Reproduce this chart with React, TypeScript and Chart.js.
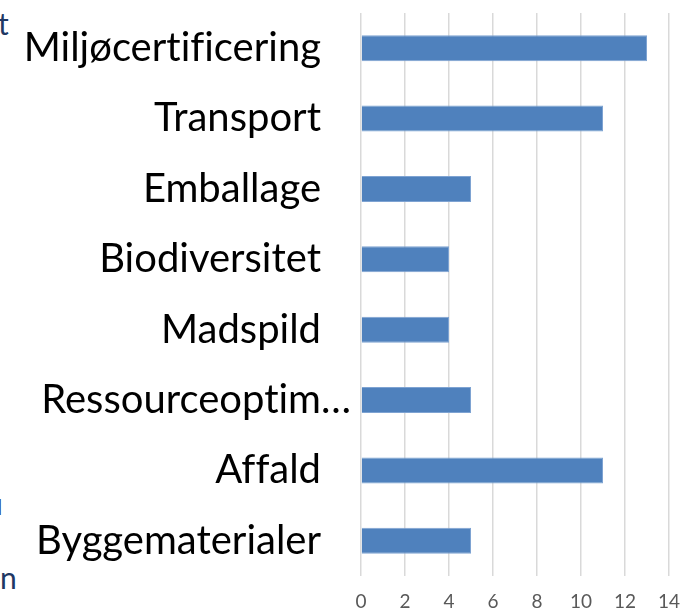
import React, { useEffect, useRef } from "react";
import { Chart, registerables } from "chart.js";
Chart.register(...registerables);

const categories = [
  "Miljøcertificering",
  "Transport",
  "Emballage",
  "Biodiversitet",
  "Madspild",
  "Ressourceoptim…",
  "Affald",
  "Byggematerialer",
];
const values = [13, 11, 5, 4, 4, 5, 11, 5];
const xMin = 0;
const xMax = 14;
const xStep = 2;

const labelTweaks = {
  id: "labelTweaks",
  beforeDraw(chart: any) {
    try {
      (chart.ctx as any).textRendering = "optimizeSpeed";
    } catch (e) {}
    const y = chart.scales.y;
    if (!y || !y.getLabelItems) return;
    const items = y.getLabelItems();
    items.forEach((it: any) => {
      if (typeof it.label === "string" && it.label.endsWith("…") && !it._shifted) {
        const ctx = chart.ctx;
        ctx.save();
        ctx.font = `${it.font.size}px ${it.font.family}`;
        const w = ctx.measureText("…").width;
        ctx.restore();
        it.options.translation[0] += w;
        it._shifted = true;
      }
    });
  },
};

export default function App() {
  const ref = useRef<HTMLCanvasElement | null>(null);
  useEffect(() => {
    if (!ref.current) return;
    const chart = new Chart(ref.current, {
      type: "bar",
      plugins: [labelTweaks],
      data: {
        labels: categories,
        datasets: [
          {
            data: values,
            backgroundColor: "#4F81BD",
            borderColor: "#7EA3D2",
            borderWidth: 1,
            barPercentage: 0.37,
            categoryPercentage: 1,
          },
        ],
      },
      options: {
        indexAxis: "y",
        animation: false,
        responsive: true,
        maintainAspectRatio: false,
        layout: { padding: { top: 13, right: 13, left: 0, bottom: 0 } },
        plugins: { legend: { display: false }, tooltip: { enabled: false } },
        scales: {
          x: {
            min: xMin,
            max: xMax,
            ticks: {
              stepSize: xStep,
              color: "#595959",
              font: { family: "Lato", size: 19 },
              padding: 14,
            },
            grid: { color: "#D9D9D9", lineWidth: 1.5, drawTicks: false },
            border: { display: false },
            afterFit: (s: any) => {
              s.height = 38;
              s.paddingLeft = 0;
              s.paddingRight = 0;
            },
          },
          y: {
            ticks: {
              color: "#000000",
              font: { family: "Lato", size: 40 },
              padding: 40,
              autoSkip: false,
            },
            grid: { display: false, drawTicks: false },
            border: { display: false },
            afterFit: (s: any) => {
              s.width = 361;
              s.paddingTop = 0;
              s.paddingBottom = 0;
            },
          },
        },
      },
    });
    return () => chart.destroy();
  }, []);
  const frag: React.CSSProperties = {
    position: "absolute",
    color: "#1F3864",
    fontFamily: "Lato",
    fontSize: 30,
    lineHeight: 1,
    whiteSpace: "nowrap",
  };
  return (
    <div style={{ position: "fixed", left: 0, top: 0, width: 682, height: 614, background: "#fff", overflow: "hidden" }}>
      <span style={{ ...frag, left: -2, top: 8 }}>t</span>
      <span style={{ ...frag, left: -14, top: 488 }}>u</span>
      <span style={{ ...frag, left: 0, top: 562 }}>n</span>
      <div style={{ position: "absolute", left: 0, top: 0, width: 682, height: 614 }}>
        <canvas ref={ref} />
      </div>
    </div>
  );
}
